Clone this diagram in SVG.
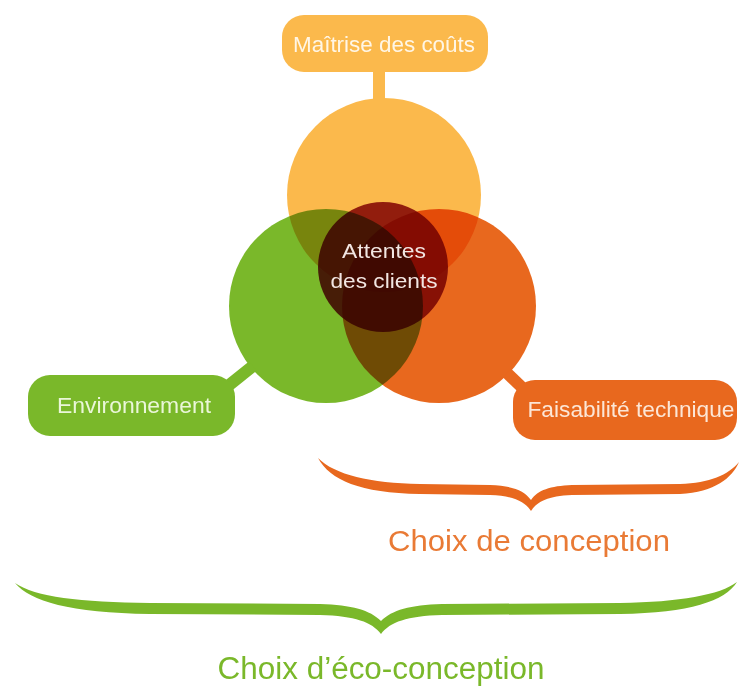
<svg xmlns="http://www.w3.org/2000/svg" width="739" height="688" viewBox="0 0 739 688">
<defs>
<style>
.lbl{font-family:"Liberation Sans","Open Sans",Arial,sans-serif;text-anchor:middle}
.pill{font-size:22px}
.yel{fill:#FBB94C}
.grn{fill:#7AB82A}
.org{fill:#E8681E}
.blend{mix-blend-mode:multiply}
</style>
</defs>
<rect width="739" height="688" fill="#ffffff"/>
<g id="venn">
<circle id="circle-couts" cx="384" cy="195" r="97" class="yel"/>
<circle id="circle-env" cx="326" cy="306" r="97" class="grn blend"/>
<circle id="circle-tech" cx="439" cy="306" r="97" class="org blend"/>
<circle id="circle-clients" cx="383" cy="267" r="65" fill="#94282A" class="blend"/>
</g>
<g id="connectors">
<rect x="373" y="68" width="12" height="32" class="yel"/>
<line x1="218" y1="394" x2="253" y2="366" stroke="#7AB82A" stroke-width="12"/>
<line x1="532" y1="397" x2="507" y2="373" stroke="#E8681E" stroke-width="12"/>
</g>
<g id="node-clients">
<text class="lbl" x="384" y="258" font-size="21" fill="#F2E6E2" textLength="84" lengthAdjust="spacingAndGlyphs">Attentes</text>
<text class="lbl" x="384" y="288" font-size="21" fill="#F2E6E2" textLength="107" lengthAdjust="spacingAndGlyphs">des clients</text>
</g>
<g id="node-couts">
<rect x="282" y="15" width="206" height="57" rx="22" class="yel"/>
<text class="lbl pill" x="384" y="52" fill="#FFF6E6" textLength="182" lengthAdjust="spacingAndGlyphs">Maîtrise des coûts</text>
</g>
<g id="node-env">
<rect x="28" y="375" width="207" height="61" rx="22" class="grn"/>
<text class="lbl pill" x="134" y="413" fill="#EAF6D8" textLength="154" lengthAdjust="spacingAndGlyphs">Environnement</text>
</g>
<g id="node-tech">
<rect x="513" y="380" width="224" height="60" rx="22" class="org"/>
<text class="lbl pill" x="631" y="417" fill="#FCE6D6" textLength="207" lengthAdjust="spacingAndGlyphs">Faisabilité technique</text>
</g>
<g id="brace-conception">
<path class="org" d="M318,458 C330,480 360,493 420,494 L490,495 C515,496 525,502 531,511 C537,502 547,496 572,495 L680,494 C715,492 732,478 739,462 C728,475 710,483 680,484 L572,485 C550,486 538,490 531,500 C524,490 512,486 490,485 L420,484 C370,483 335,475 318,458 Z"/>
<text class="lbl" x="529" y="551" font-size="30" fill="#E97A35" textLength="282" lengthAdjust="spacingAndGlyphs">Choix de conception</text>
</g>
<g id="brace-eco">
<path class="grn" d="M15,583 C30,601 70,613 150,614 L320,615 C355,616 372,622 381,634 C390,622 407,616 442,615 L620,614 C690,613 725,601 737,582 C720,595 680,602 620,603 L442,604 C410,605 392,610 381,621 C370,610 352,605 320,604 L150,603 C80,602 35,597 15,583 Z"/>
<text class="lbl" x="381" y="679" font-size="31" fill="#7AB82A" textLength="327" lengthAdjust="spacingAndGlyphs">Choix d’éco-conception</text>
</g>
</svg>
